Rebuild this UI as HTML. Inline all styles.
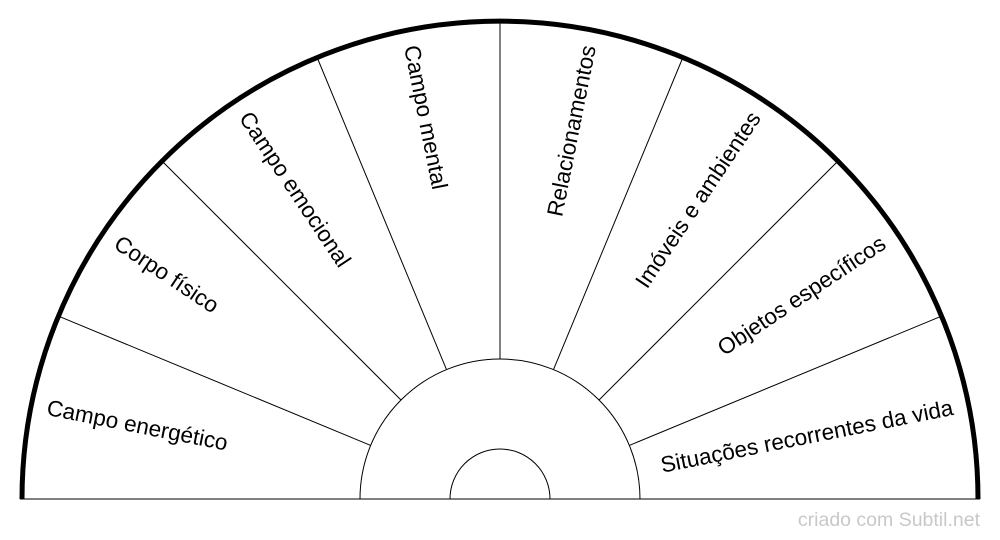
<!DOCTYPE html>
<html><head><meta charset="utf-8"><style>
html,body{margin:0;padding:0;background:#fff;}
svg{display:block;}
text{font-family:"Liberation Sans",Arial,sans-serif;}
</style></head><body>
<svg width="1000" height="540" viewBox="0 0 1000 540" xmlns="http://www.w3.org/2000/svg">
<g fill="none" stroke="#000" stroke-width="1">
<path d="M360,499 A140,140 0 0 1 640,499"/>
<path d="M450,499 A50,50 0 0 1 550,499"/>
<line x1="20" y1="499" x2="980" y2="499"/>
<line x1="370.7" y1="445.4" x2="56.5" y2="315.3"/>
<line x1="401" y1="400" x2="160.6" y2="159.6"/>
<line x1="446.4" y1="369.3" x2="316.3" y2="55.5"/>
<line x1="500" y1="359" x2="500" y2="19"/>
<line x1="553.6" y1="369.3" x2="683.7" y2="55.5"/>
<line x1="599" y1="400" x2="839.4" y2="159.6"/>
<line x1="629.3" y1="445.4" x2="943.5" y2="315.3"/>
</g>
<path d="M22,499 A478,478 0 0 1 978,499" fill="none" stroke="#000" stroke-width="5"/>
<g font-size="22.5" fill="#000" dominant-baseline="middle">
<text transform="translate(500,499) rotate(11.25) translate(-462,0)" text-anchor="start">Campo energético</text>
<text transform="translate(500,499) rotate(33.75) translate(-462,0)" text-anchor="start">Corpo físico</text>
<text transform="translate(500,499) rotate(56.25) translate(-462,0)" text-anchor="start">Campo emocional</text>
<text transform="translate(500,499) rotate(78.75) translate(-462,0)" text-anchor="start">Campo mental</text>
<text transform="translate(500,499) rotate(-78.75) translate(462,0)" text-anchor="end">Relacionamentos</text>
<text transform="translate(500,499) rotate(-56.25) translate(462,0)" text-anchor="end">Imóveis e ambientes</text>
<text transform="translate(500,499) rotate(-33.75) translate(462,0)" text-anchor="end">Objetos específicos</text>
<text transform="translate(500,499) rotate(-11.25) translate(462,0)" text-anchor="end">Situações recorrentes da vida</text>
</g>
<text x="980" y="526" text-anchor="end" font-size="19.5" fill="#c8c8c8">criado com Subtil.net</text>
</svg>
</body></html>
